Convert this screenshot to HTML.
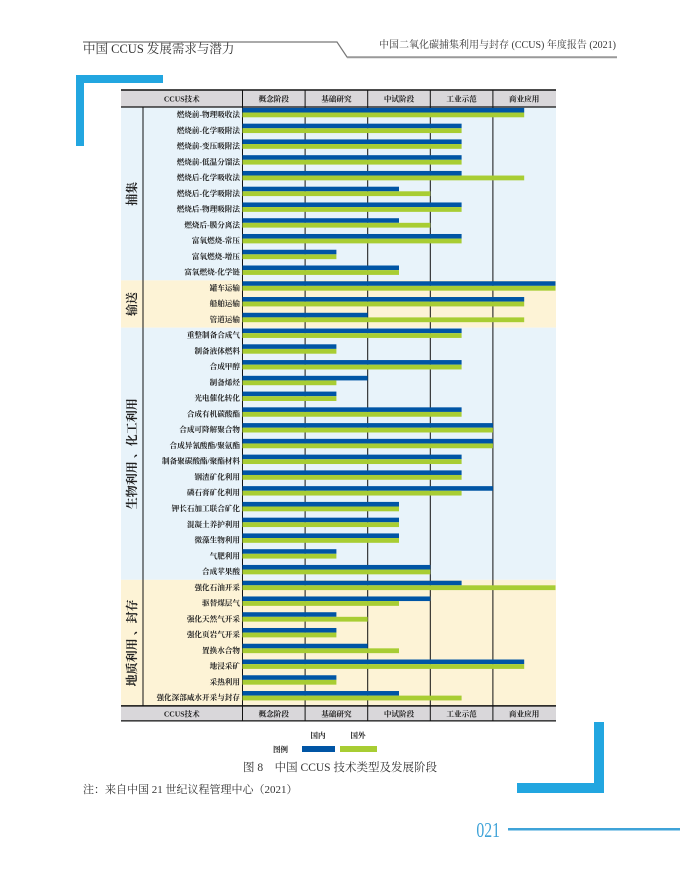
<!DOCTYPE html>
<html><head><meta charset="utf-8">
<style>
html,body{margin:0;padding:0;background:#fff;}
svg{display:block;font-family:"Liberation Serif","Noto Serif CJK SC",serif;}
</style></head>
<body>
<svg id="chart" width="680" height="869" viewBox="0 0 680 869" xmlns="http://www.w3.org/2000/svg">
  <g>
    <polyline points="83,42 337,42 347,57 617,57" fill="none" stroke="#777" stroke-width="1.2"/>
    <line x1="347" y1="57.5" x2="617" y2="57.5" stroke="#999" stroke-width="1.5"/>
    <text x="83" y="53" font-size="12.5" fill="#333" font-family="Liberation Serif, Noto Serif CJK SC, serif">中国 CCUS 发展需求与潜力</text>
    <text x="616" y="48" font-size="10" fill="#333" text-anchor="end" font-family="Liberation Serif, Noto Serif CJK SC, serif">中国二氧化碳捕集利用与封存 (CCUS) 年度报告 (2021)</text>
  </g>
  <g fill="#22a6e0">
    <rect x="76" y="75" width="87" height="8"/>
    <rect x="76" y="75" width="8" height="71"/>
  </g>
  <g fill="#22a6e0">
    <rect x="594" y="722" width="10" height="71"/>
    <rect x="517" y="783" width="87" height="10"/>
  </g>
  <g id="bg"></g>
  <g id="grid"></g>
  <g id="bars"></g>
  <g id="labels"></g>
  <g id="heads"></g>
  <g font-size="7.5" font-weight="bold" fill="#222">
    <text x="273" y="752">图例</text>
    <text x="318" y="738" text-anchor="middle">国内</text>
    <text x="358" y="738" text-anchor="middle">国外</text>
    <rect x="302" y="746" width="33" height="6" fill="#0055a5"/>
    <rect x="340" y="746" width="37" height="6" fill="#a8cd33"/>
  </g>
  <text x="340" y="771" font-size="11.5" fill="#333" text-anchor="middle">图 8　中国 CCUS 技术类型及发展阶段</text>
  <text x="83" y="793" font-size="11" fill="#333">注：来自中国 21 世纪议程管理中心（2021）</text>
  <text x="0" y="0" font-size="21" fill="#3fa3d8" text-anchor="end" font-family="Liberation Serif, serif" transform="translate(500 837) scale(0.75 1)">021</text>
  <rect x="508" y="828" width="172" height="2.5" fill="#3fa3d8"/>
</svg>
<script>
const stages = ["概念阶段","基础研究","中试阶段","工业示范","商业应用"];
const groups = ["捕集","输送","生物利用 、化工利用","地质利用 、封存"];
const groupSizes = [11,3,16,8];
const techs = ["燃烧前-物理吸收法","燃烧前-化学吸附法","燃烧前-变压吸附法","燃烧前-低温分馏法","燃烧后-化学吸收法","燃烧后-化学吸附法","燃烧后-物理吸附法","燃烧后-膜分离法","富氧燃烧-常压","富氧燃烧-增压","富氧燃烧-化学链",
"罐车运输","船舶运输","管道运输",
"重整制备合成气","制备液体燃料","合成甲醇","制备烯烃","光电催化转化","合成有机碳酸酯","合成可降解聚合物","合成异氰酸酯/聚氨酯","制备聚碳酸酯/聚酯材料","钢渣矿化利用","磷石膏矿化利用","钾长石加工联合矿化","混凝土养护利用","微藻生物利用","气肥利用","合成苹果酸",
"强化石油开采","驱替煤层气","强化天然气开采","强化页岩气开采","置换水合物","地浸采矿","采热利用","强化深部咸水开采与封存"];
const domestic = [4.5,3.5,3.5,3.5,3.5,2.5,3.5,2.5,3.5,1.5,2.5, 5,4.5,2, 3.5,1.5,3.5,2,1.5,3.5,4,4,3.5,3.5,4,2.5,2.5,2.5,1.5,3, 3.5,3,1.5,1.5,2,4.5,1.5,2.5];
const foreign = [4.5,3.5,3.5,3.5,4.5,3,3.5,3,3.5,1.5,2.5, 5,4.5,4.5, 3.5,1.5,3.5,1.5,1.5,3.5,4,4,3.5,3.5,3.5,2.5,2.5,2.5,1.5,3, 5,2.5,2,1.5,2.5,4.5,1.5,3.5];

const NS="http://www.w3.org/2000/svg";
const X0=242.5, COLW=62.6, TOP=107, ROWH=15.76, LEFT=121, GCOL=143, RIGHT=556;
const xs = v => X0 + v*COLW;
const ys = i => TOP + i*ROWH;
function mk(tag, attrs, parent){const e=document.createElementNS(NS,tag);for(const k in attrs)e.setAttribute(k,attrs[k]);parent.appendChild(e);return e;}
const gBg=document.getElementById('bg'), gGrid=document.getElementById('grid'), gBars=document.getElementById('bars'), gLab=document.getElementById('labels'), gHead=document.getElementById('heads');
const bgCols=["#e8f3fa","#fdf3d6","#e8f3fa","#fdf3d6"];
let start=0;
groups.forEach((g,gi)=>{
  const y0=ys(start), y1=ys(start+groupSizes[gi]);
  const r=mk('rect',{x:LEFT,y:y0,width:RIGHT-LEFT,height:y1-y0,fill:bgCols[gi]},gBg);
  
  
  const cy=(y0+y1)/2, cx=(LEFT+GCOL)/2+4;
  const t=mk('text',{x:cx,y:cy,transform:`rotate(-90 ${cx} ${cy})`,'text-anchor':'middle','font-size':12,'font-weight':'bold',fill:'#222'},gLab);
  t.textContent=g;
  
  
  start+=groupSizes[gi];
});
const bodyBottom=ys(techs.length);
mk('line',{x1:GCOL,y1:TOP,x2:GCOL,y2:bodyBottom,stroke:'#111','stroke-width':1},gGrid);
for(let k=0;k<5;k++){const l=mk('line',{x1:xs(k),y1:TOP,x2:xs(k),y2:bodyBottom,stroke:'#111','stroke-width':1},gGrid);
  
  }
techs.forEach((t,i)=>{
  const y=ys(i);
  const b=mk('rect',{x:X0,y:y+0.9,width:xs(domestic[i])-X0,height:4.6,fill:'#0055a5'},gBars);
  
  
  const f=mk('rect',{x:X0,y:y+5.5,width:xs(foreign[i])-X0,height:4.8,fill:'#a8cd33'},gBars);
  
  
  const tx=mk('text',{x:240,y:y+10,'text-anchor':'end','font-size':7.6,'font-weight':'bold',fill:'#222'},gLab);
  tx.textContent=t;
  
  
});
function header(y, h, name){
  const g=mk('g',{},gHead);
  
  
  mk('rect',{x:LEFT,y:y,width:RIGHT-LEFT,height:h,fill:'#d9d7da'},g);
  mk('line',{x1:LEFT,y1:y,x2:RIGHT,y2:y,stroke:'#111','stroke-width':1.5},g);
  mk('line',{x1:LEFT,y1:y+h,x2:RIGHT,y2:y+h,stroke:'#111','stroke-width':1.2},g);
  const t=mk('text',{x:(LEFT+X0)/2,y:y+h/2+3,'text-anchor':'middle','font-size':7.6,'font-weight':'bold',fill:'#222'},g);
  t.textContent='CCUS技术';
  for(let k=0;k<5;k++){
    mk('line',{x1:xs(k),y1:y,x2:xs(k),y2:y+h,stroke:'#111','stroke-width':1},g);
    const s=mk('text',{x:xs(k+0.5),y:y+h/2+3,'text-anchor':'middle','font-size':7.6,'font-weight':'bold',fill:'#222'},g);
    s.textContent=stages[k];
  }
}
header(90,17,'header-row-top');
header(bodyBottom,15,'header-row-bottom');
</script>
</body></html>
